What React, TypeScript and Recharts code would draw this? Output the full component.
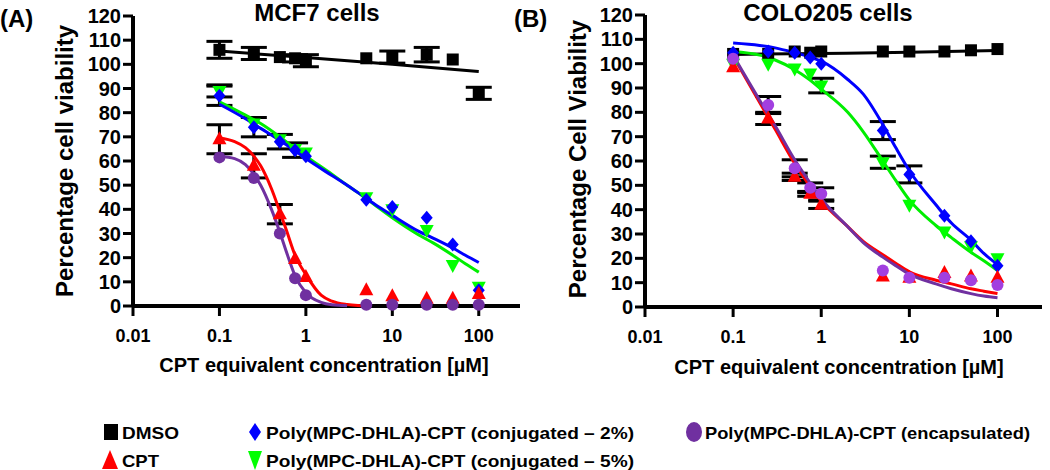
import { ErrorBar, Label, Scatter, ScatterChart, XAxis, YAxis } from 'recharts'

const FONT = '"Liberation Sans", Arial, Helvetica, sans-serif'

// concentrations (µM) used in both experiments
const CONC = [0.1, 0.25, 0.5, 0.75, 1, 5, 10, 25, 50, 100]
const X_TICKS = [0.01, 0.1, 1, 10, 100]
const Y_TICKS = [0, 10, 20, 30, 40, 50, 60, 70, 80, 90, 100, 110, 120]

// (A) MCF7 cells - measured points
const DMSO_A = [106, 104.5, 103, 102.5, 101.5, 102.5, 103, 104, 102, 88]
const DMSO_A_ERR = [3.5, 2.5, 0, 1.5, 2.5, 0, 2.5, 3, 0, 2.5]
const CPT_A = [69, 58, 38, 19.5, 12, 6.5, 4, 3, 3, 5]
const CPT_A_ERR = [6, 5, 4, 0, 0, 0, 0, 0, 0, 0]
const CONJ2_A = [87, 74, 68, 64.5, 62, 44, 41, 36.5, 25.5, 6.5]
const CONJ2_A_ERR = [4, 4, 3, 3, 0, 0, 0, 0, 0, 0]
const CONJ5_A = [89, 75.5, 69, 65, 63.5, 45, 40, 31.5, 17, 8]
const CONJ5_A_ERR = [2.5, 0, 0, 0, 0, 0, 0, 0, 0, 0]
const ENCAP_A = [61.5, 53, 30, 11.5, 4.5, 0.5, 0.5, 0.5, 0.5, 0.5]

// (B) COLO205 cells - measured points
const DMSO_B = [104, 104, 105, 104.5, 105, 105, 105, 105, 105.5, 106]
const CPT_B = [98.5, 77.5, 53.5, 46.5, 42, 12.5, 12, 14, 12.5, 12]
const CPT_B_ERR = [0, 2.5, 1.5, 1, 1.5, 0, 0, 0, 0, 0]
const CONJ2_B = [104.5, 105, 104.5, 102.5, 100, 72.5, 54.5, 37.5, 27, 17]
const CONJ2_B_ERR = [0, 0, 0, 0, 0, 3.7, 3.5, 0, 0, 0]
const CONJ5_B = [100, 100, 98, 96, 91, 59.5, 42, 31, 25, 20]
const CONJ5_B_ERR = [0, 0, 0, 0, 3, 2.5, 0, 0, 0, 0]
const ENCAP_B = [102, 83, 57, 49, 46.5, 15, 12, 12, 11, 9]
const ENCAP_B_ERR = [0, 3.5, 3.5, 2, 2.5, 0, 0, 0, 0, 0]

// fitted curves
const FIT_X = [0.1, 0.2, 0.3, 0.5, 0.7, 1, 2, 3, 5, 7, 10, 20, 30, 50, 70, 100]
const LINE_X = [0.1, 1, 10, 100]

const DMSO_A_FIT = [105.5, 102.8, 100, 97]
const CONJ2_A_FIT = [83.5, 77.5, 73.5, 68.5, 65, 61, 54, 50, 44.5, 41, 37.5, 31, 28, 24, 21, 18]
const CONJ5_A_FIT = [84.5, 79, 75.5, 70, 66, 62, 54.5, 50, 44.5, 40.5, 36.5, 29.5, 26, 21, 17.5, 14]
const CPT_A_FIT_X = [0.1, 0.15, 0.2, 0.25, 0.3, 0.4, 0.5, 0.6, 0.75, 1, 1.5, 2, 3, 4, 5]
const CPT_A_FIT = [69.5, 68, 65.5, 62, 58, 48.5, 39, 31, 21, 13, 4.5, 2, 0.6, 0.2, 0.1]
const ENCAP_A_FIT_X = [0.1, 0.15, 0.2, 0.25, 0.3, 0.4, 0.5, 0.6, 0.75, 1, 1.5, 2, 3]
const ENCAP_A_FIT = [62, 61, 58.5, 54.5, 50, 40, 30.5, 22, 12.5, 5.5, 1.5, 0.5, 0.1]

const DMSO_B_FIT = [103.8, 104.2, 104.7, 105.4]
const CONJ2_B_FIT = [108.5, 107.5, 106.5, 104.5, 103, 101, 93.5, 87.5, 75, 65.5, 56, 42, 34.5, 27.5, 22, 17.5]
const CONJ5_B_FIT = [105, 103.5, 101.5, 97.5, 94, 89.5, 80, 72, 60, 52, 44, 33.5, 28.5, 22.5, 19, 15]
const CPT_B_FIT = [103, 84, 73, 59, 51, 43.5, 33, 27, 21.5, 18, 14.5, 11, 9.5, 7.5, 6.5, 5.5]
const ENCAP_B_FIT = [103.5, 85, 74.5, 60.5, 52.5, 44.5, 33, 26.5, 20.5, 17, 13.5, 9.5, 7.5, 5.5, 4.5, 3.8]

const LEGEND_ROW_1 = ['DMSO', 'Poly(MPC-DHLA)-CPT (conjugated \u2013 2%)', 'Poly(MPC-DHLA)-CPT (encapsulated)']
const LEGEND_ROW_2 = ['CPT', 'Poly(MPC-DHLA)-CPT (conjugated \u2013 5%)']

const BLACK = '#000000'
const RED = '#ff0000'
const BLUE = '#0000ff'
const GREEN = '#00ee00'
const PURPLE = '#7030a0'
const PURPLE_LIGHT = '#a23fe0'

type Kind = 'square' | 'diamond' | 'up' | 'down' | 'circle'

const toPoints = (xs: number[], ys: number[], errs?: number[]) =>
  xs.map((x, i) => ({ x, y: ys[i], err: errs ? errs[i] : 0 }))

function Marker({ cx, cy, kind, color }: { cx?: number; cy?: number; kind: Kind; color: string }) {
  if (cx == null || cy == null) return <g />
  if (kind === 'square') return <rect x={cx - 6} y={cy - 6} width={12} height={12} fill={color} />
  if (kind === 'diamond')
    return <polygon points={`${cx},${cy - 7} ${cx + 6},${cy} ${cx},${cy + 7} ${cx - 6},${cy}`} fill={color} />
  if (kind === 'up')
    return <polygon points={`${cx},${cy - 8} ${cx + 7},${cy + 5} ${cx - 7},${cy + 5}`} fill={color} />
  if (kind === 'down')
    return <polygon points={`${cx - 7},${cy - 5} ${cx + 7},${cy - 5} ${cx},${cy + 8}`} fill={color} />
  return <circle cx={cx} cy={cy} r={6} fill={color} />
}

interface Fit {
  data: { x: number; y: number }[]
  color: string
}
interface Mark {
  data: { x: number; y: number; err: number }[]
  kind: Kind
  color: string
}

interface PanelProps {
  width: number
  height: number
  top: number
  right: number
  yWidth: number
  xHeight: number
  xMax: number
  fits: Fit[]
  marks: Mark[]
  yTitle: string
  yTitlePos: [number, number]
  xTitlePos: [number, number]
}

function Panel(p: PanelProps) {
  const tickStyle = { fill: '#000', fontFamily: FONT, fontWeight: 'bold' }
  return (
    <ScatterChart width={p.width} height={p.height} margin={{ top: p.top, right: p.right, bottom: 0, left: 0 }}>
      <XAxis
        type="number"
        dataKey="x"
        scale="log"
        domain={[0.01, p.xMax]}
        ticks={X_TICKS}
        interval={0}
        allowDataOverflow
        height={p.xHeight}
        axisLine={{ stroke: '#000', strokeWidth: 4 }}
        tickLine={{ stroke: '#000', strokeWidth: 3 }}
        tickSize={10}
        tickMargin={13}
        tick={{ ...tickStyle, fontSize: 18 }}
      >
        <Label
          content={() => (
            <text
              x={p.xTitlePos[0]}
              y={p.xTitlePos[1]}
              textAnchor="middle"
              fontFamily={FONT}
              fontWeight="bold"
              fontSize={20}
              fill="#000"
            >
              CPT  equivalent concentration [µM]
            </text>
          )}
        />
      </XAxis>
      <YAxis
        type="number"
        dataKey="y"
        domain={[0, 120]}
        ticks={Y_TICKS}
        interval={0}
        width={p.yWidth}
        axisLine={{ stroke: '#000', strokeWidth: 4 }}
        tickLine={{ stroke: '#000', strokeWidth: 3 }}
        tickSize={10}
        tickMargin={2}
        tick={{ ...tickStyle, fontSize: 20 }}
      >
        <Label
          content={() => (
            <text
              x={p.yTitlePos[0]}
              y={p.yTitlePos[1]}
              transform={`rotate(-90 ${p.yTitlePos[0]} ${p.yTitlePos[1]})`}
              textAnchor="middle"
              dominantBaseline="central"
              fontFamily={FONT}
              fontWeight="bold"
              fontSize={24}
              fill="#000"
            >
              {p.yTitle}
            </text>
          )}
        />
      </YAxis>
      {p.fits.map((f, i) => (
        <Scatter
          key={`fit-${i}`}
          data={f.data}
          line={{ stroke: f.color, strokeWidth: 3 }}
          lineJointType="monotoneX"
          shape={() => <g />}
          isAnimationActive={false}
        />
      ))}
      {p.marks.map((m, i) => (
        <Scatter
          key={`mark-${i}`}
          data={m.data}
          shape={(s: any) => <Marker cx={s.cx} cy={s.cy} kind={m.kind} color={m.color} />}
          isAnimationActive={false}
        >
          <ErrorBar dataKey="err" direction="y" width={13} stroke="#000" strokeWidth={3} />
        </Scatter>
      ))}
    </ScatterChart>
  )
}

function LegendMark({ kind, x, y, color }: { kind: Kind; x: number; y: number; color: string }) {
  if (kind === 'square') return <rect x={x - 7} y={y - 8} width={14} height={16} fill={color} />
  if (kind === 'diamond')
    return <polygon points={`${x},${y - 9} ${x + 6},${y} ${x},${y + 9} ${x - 6},${y}`} fill={color} />
  if (kind === 'up') return <polygon points={`${x},${y - 10} ${x + 8},${y + 9} ${x - 8},${y + 9}`} fill={color} />
  if (kind === 'down') return <polygon points={`${x - 7},${y - 9} ${x + 7},${y - 9} ${x},${y + 10}`} fill={color} />
  return <ellipse cx={x} cy={y} rx={8} ry={10} fill={color} />
}

export default function App() {
  const fitsA: Fit[] = [
    { data: toPoints(LINE_X, DMSO_A_FIT), color: BLACK },
    { data: toPoints(FIT_X, CONJ5_A_FIT), color: GREEN },
    { data: toPoints(FIT_X, CONJ2_A_FIT), color: BLUE },
    { data: toPoints(CPT_A_FIT_X, CPT_A_FIT), color: RED },
    { data: toPoints(ENCAP_A_FIT_X, ENCAP_A_FIT), color: PURPLE },
  ]
  const marksA: Mark[] = [
    { data: toPoints(CONC, DMSO_A, DMSO_A_ERR), kind: 'square', color: BLACK },
    { data: toPoints(CONC, CONJ5_A, CONJ5_A_ERR), kind: 'down', color: '#00ff00' },
    { data: toPoints(CONC, CONJ2_A, CONJ2_A_ERR), kind: 'diamond', color: BLUE },
    { data: toPoints(CONC, CPT_A, CPT_A_ERR), kind: 'up', color: RED },
    { data: toPoints(CONC, ENCAP_A), kind: 'circle', color: PURPLE },
  ]
  const fitsB: Fit[] = [
    { data: toPoints(LINE_X, DMSO_B_FIT), color: BLACK },
    { data: toPoints(FIT_X, CONJ5_B_FIT), color: GREEN },
    { data: toPoints(FIT_X, CONJ2_B_FIT), color: BLUE },
    { data: toPoints(FIT_X, CPT_B_FIT), color: RED },
    { data: toPoints(FIT_X, ENCAP_B_FIT), color: PURPLE },
  ]
  const marksB: Mark[] = [
    { data: toPoints(CONC, DMSO_B), kind: 'square', color: BLACK },
    { data: toPoints(CONC, CONJ5_B, CONJ5_B_ERR), kind: 'down', color: '#00ff00' },
    { data: toPoints(CONC, CONJ2_B, CONJ2_B_ERR), kind: 'diamond', color: BLUE },
    { data: toPoints(CONC, CPT_B, CPT_B_ERR), kind: 'up', color: RED },
    { data: toPoints(CONC, ENCAP_B, ENCAP_B_ERR), kind: 'circle', color: PURPLE_LIGHT },
  ]

  const textProps = { fontFamily: FONT, fontWeight: 'bold' as const, fill: '#000' }
  const legendText = { ...textProps, fontSize: 17, lengthAdjust: 'spacingAndGlyphs' as const }

  return (
    <div style={{ position: 'absolute', left: 0, top: 0, width: 1050, height: 470, background: '#fff', overflow: 'hidden' }}>
      <div style={{ position: 'absolute', left: 0, top: 0 }}>
        <Panel
          width={530}
          height={380}
          top={16}
          right={10}
          yWidth={133}
          xHeight={74}
          xMax={300}
          fits={fitsA}
          marks={marksA}
          yTitle="Percentage cell viability"
          yTitlePos={[64, 161]}
          xTitlePos={[324, 372]}
        />
      </div>
      <div style={{ position: 'absolute', left: 520, top: 0 }}>
        <Panel
          width={530}
          height={380}
          top={15}
          right={8}
          yWidth={125}
          xHeight={73}
          xMax={320}
          fits={fitsB}
          marks={marksB}
          yTitle="Percentage Cell Viability"
          yTitlePos={[57, 159]}
          xTitlePos={[319, 374]}
        />
      </div>
      <svg
        width={1050}
        height={470}
        style={{ position: 'absolute', left: 0, top: 0, pointerEvents: 'none' }}
      >
        <text x={0} y={27} fontSize={24} {...textProps}>(A)</text>
        <text x={514} y={27} fontSize={24} {...textProps}>(B)</text>
        <text x={317} y={21} fontSize={24} textAnchor="middle" {...textProps}>MCF7 cells</text>
        <text x={828} y={21} fontSize={24} textAnchor="middle" {...textProps}>COLO205 cells</text>

        <LegendMark kind="square" x={111} y={432} color={BLACK} />
        <text x={122} y={439} textLength={57} {...legendText}>
          {LEGEND_ROW_1[0]}
        </text>
        <LegendMark kind="diamond" x={255} y={432} color={BLUE} />
        <text x={266} y={439} textLength={368} {...legendText}>
          {LEGEND_ROW_1[1]}
        </text>
        <LegendMark kind="circle" x={694} y={432} color={PURPLE} />
        <text x={705} y={439} textLength={325} {...legendText}>
          {LEGEND_ROW_1[2]}
        </text>

        <LegendMark kind="up" x={110} y={460} color={RED} />
        <text x={122} y={467} textLength={37} {...legendText}>
          {LEGEND_ROW_2[0]}
        </text>
        <LegendMark kind="down" x={255} y={460} color="#00ff00" />
        <text x={266} y={467} textLength={368} {...legendText}>
          {LEGEND_ROW_2[1]}
        </text>
      </svg>
    </div>
  )
}
